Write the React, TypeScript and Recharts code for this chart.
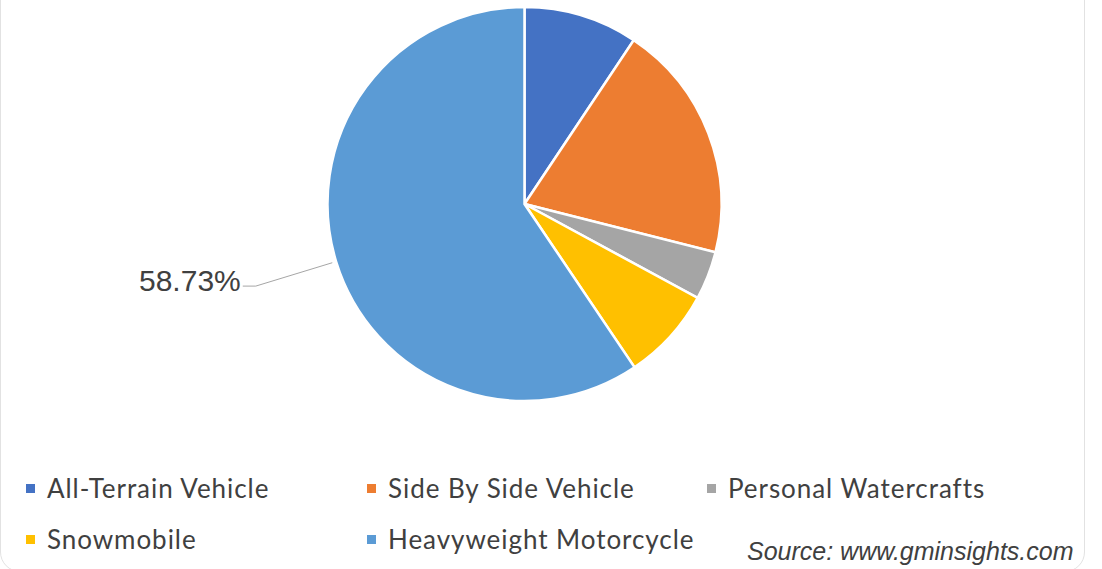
import React from 'react';
import { PieChart, Pie, Cell, Legend } from 'recharts';

const categories = [
  'All-Terrain Vehicle',
  'Side By Side Vehicle',
  'Personal Watercrafts',
  'Snowmobile',
  'Heavyweight Motorcycle',
];
const shares = [9.25, 19.35, 3.92, 7.56, 58.73];
const colors = ['#4472C4', '#ED7D31', '#A5A5A5', '#FFC000', '#5B9BD5'];
const labelledCategory = 'Heavyweight Motorcycle';
const sourceText = 'Source: www.gminsights.com';

const data = categories.map((name, i) => ({ name, value: shares[i] }));

const RAD = Math.PI / 180;

const renderLabel = (props: any) => {
  const { cx, cy, midAngle, outerRadius, value, name } = props;
  if (name !== labelledCategory) return <g />;
  const cos = Math.cos(-midAngle * RAD);
  const sin = Math.sin(-midAngle * RAD);
  const sx = cx + (outerRadius + 4) * cos;
  const sy = cy + (outerRadius + 4) * sin;
  const ex = cx + (outerRadius + 84) * cos;
  const ey = cy + (outerRadius + 84) * sin;
  const hx = ex - 13;
  return (
    <g>
      <polyline
        points={`${sx},${sy} ${ex},${ey} ${hx},${ey}`}
        fill="none"
        stroke="#A6A6A6"
        strokeWidth={1}
      />
      <text
        x={hx - 2}
        y={ey + 5}
        textAnchor="end"
        fontFamily="'Liberation Sans', Arial, sans-serif"
        fontSize={30}
        fill="#404040"
      >
        {`${Number(value).toFixed(2)}%`}
      </text>
    </g>
  );
};

const legendCols = [26, 367, 707];
const legendRows = [484, 535];

const renderLegend = () => (
  <div style={{ position: 'relative', width: 1102, height: 569 }}>
    {categories.map((name, i) => {
      const col = i % 3;
      const row = Math.floor(i / 3);
      const x = legendCols[col];
      const y = legendRows[row];
      return (
        <div key={name}>
          <div
            style={{
              position: 'absolute',
              left: x,
              top: y,
              width: 9,
              height: 9,
              background: colors[i],
            }}
          />
          <div
            style={{
              position: 'absolute',
              left: x + 21,
              top: y - 12,
              fontFamily: "Lato, 'Open Sans', sans-serif",
              fontSize: 26,
              letterSpacing: 0.95,
              lineHeight: '32px',
              color: '#404040',
              whiteSpace: 'nowrap',
            }}
          >
            {name}
          </div>
        </div>
      );
    })}
    <div
      style={{
        position: 'absolute',
        left: 747,
        top: 537,
        fontFamily: "'Liberation Sans', Arial, sans-serif",
        fontStyle: 'italic',
        fontSize: 25,
        lineHeight: '28px',
        color: '#404040',
        whiteSpace: 'nowrap',
      }}
    >
      {sourceText}
    </div>
  </div>
);

export default function App() {
  return (
    <div
      style={{
        position: 'absolute',
        left: 0,
        top: 0,
        width: 1102,
        height: 569,
        background: '#fff',
        overflow: 'hidden',
      }}
    >
      <div
        style={{
          position: 'absolute',
          left: 0,
          top: -30,
          width: 1083,
          height: 600,
          border: '1px solid #E2E2E2',
          borderRadius: 20,
        }}
      />
      <PieChart width={1102} height={569} margin={{ top: 0, right: 0, bottom: 0, left: 0 }}>
        <Pie
          data={data}
          dataKey="value"
          nameKey="name"
          cx={524.5}
          cy={204}
          outerRadius={197}
          startAngle={90}
          endAngle={-270}
          stroke="#FFFFFF"
          strokeWidth={2.5}
          label={renderLabel}
          labelLine={false}
          isAnimationActive={false}
        >
          {data.map((d, i) => (
            <Cell key={d.name} fill={colors[i]} />
          ))}
        </Pie>
        <Legend
          content={renderLegend}
          wrapperStyle={{ left: 0, top: 0, bottom: 'auto', width: 1102, height: 569, pointerEvents: 'none' }}
        />
      </PieChart>
    </div>
  );
}
